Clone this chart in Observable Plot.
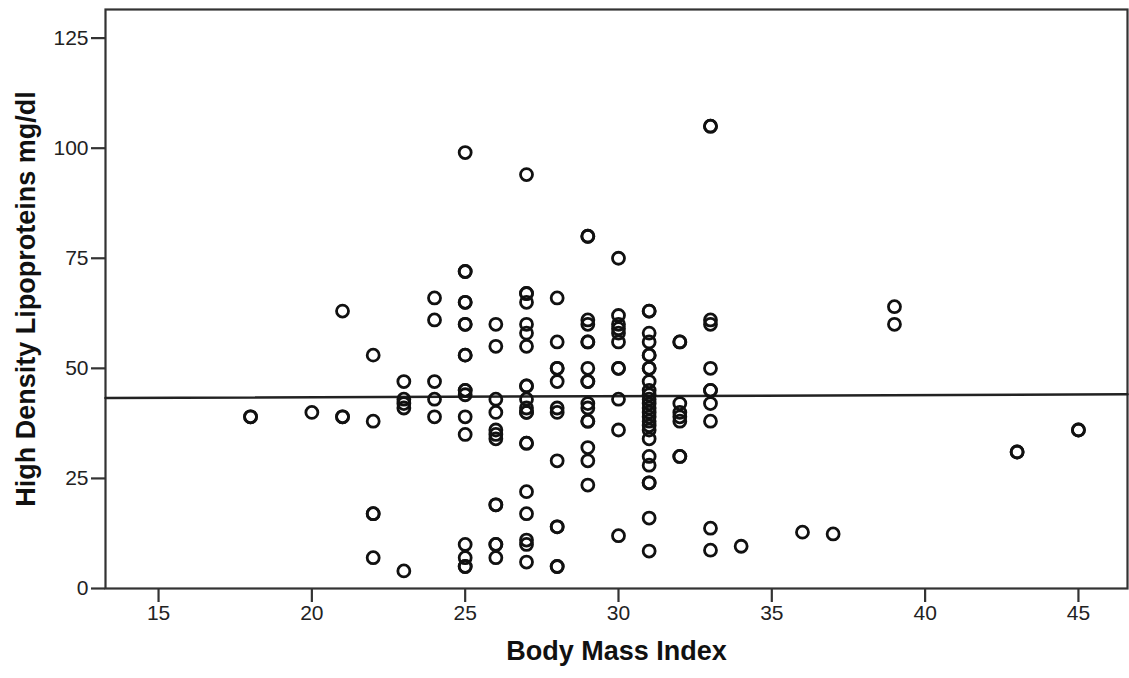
<!DOCTYPE html>
<html>
<head>
<meta charset="utf-8">
<script src="https://cdn.jsdelivr.net/npm/d3@7"></script>
<script src="https://cdn.jsdelivr.net/npm/@observablehq/plot@0.6"></script>
<style>
  html, body { margin: 0; padding: 0; background: #fff; }
  #chart svg { display: block; }
</style>
</head>
<body>
<div id="chart"></div>
<script>
// Body Mass Index (x) and HDL mg/dl (y)
const bmi = [
  18, 18,
  20,
  21, 21, 21,
  22, 22, 22, 22, 22,
  23, 23, 23, 23, 23,
  24, 24, 24, 24, 24,
  25, 25, 25, 25, 25, 25, 25, 25, 25, 25, 25, 25, 25, 25, 25, 25, 25, 25,
  26, 26, 26, 26, 26, 26, 26, 26, 26, 26, 26, 26,
  27, 27, 27, 27, 27, 27, 27, 27, 27, 27, 27, 27, 27, 27, 27, 27, 27, 27, 27, 27,
  28, 28, 28, 28, 28, 28, 28, 28, 28, 28, 28, 28,
  29, 29, 29, 29, 29, 29, 29, 29, 29, 29, 29, 29, 29, 29, 29, 29,
  30, 30, 30, 30, 30, 30, 30, 30, 30, 30, 30,
  31, 31, 31, 31, 31, 31, 31, 31, 31, 31, 31, 31, 31, 31, 31, 31, 31, 31, 31, 31, 31, 31, 31, 31, 31, 31,
  32, 32, 32, 32, 32, 32, 32, 32,
  33, 33, 33, 33, 33, 33, 33, 33, 33, 33, 33,
  34, 36, 37,
  39, 39,
  43, 43,
  45, 45
];
const hdl = [
  39, 39,
  40,
  63, 39, 39,
  53, 38, 17, 17, 7,
  47, 43, 42, 41, 4,
  66, 61, 47, 43, 39,
  99, 72, 72, 65, 65, 60, 60, 53, 53, 45, 45, 44, 39, 35, 10, 7, 5, 5,
  60, 55, 43, 40, 36, 35, 34, 19, 19, 10, 10, 7,
  94, 67, 67, 65, 60, 58, 55, 46, 46, 43, 41, 40, 40, 33, 33, 22, 17, 11, 10, 6,
  66, 56, 50, 50, 47, 41, 40, 29, 14, 14, 5, 5,
  80, 80, 61, 60, 56, 56, 50, 47, 47, 42, 41, 38, 38, 32, 29, 23.5,
  75, 62, 60, 59, 58, 56, 50, 50, 43, 36, 12,
  63, 63, 58, 56, 53, 53, 50, 50, 47, 45, 44, 43, 42, 41, 40, 39, 38, 37, 36, 34, 30, 28, 24, 24, 16, 8.5,
  56, 56, 42, 40, 39, 38, 30, 30,
  105, 105, 61, 60, 50, 45, 45, 42, 38, 13.7, 8.7,
  9.6, 12.8, 12.4,
  64, 60,
  31, 31,
  36, 36
];
// Fit line end points (mean line across the frame)
const fitBmi = [13.27, 46.6];
const fitHdl = [43.25, 44.1];
// Tick labels
const xTicks = [15, 20, 25, 30, 35, 40, 45];
const yTicks = [0, 25, 50, 75, 100, 125];
const xLabel = "Body Mass Index";
const yLabel = "High Density Lipoproteins mg/dl";

const points = bmi.map((b, i) => ({bmi: b, hdl: hdl[i]}));
const fit = fitBmi.map((b, i) => ({bmi: b, hdl: fitHdl[i]}));

const chart = Plot.plot({
  width: 1129,
  height: 678,
  marginLeft: 105,
  marginRight: 2,
  marginTop: 9,
  marginBottom: 90,
  style: {fontFamily: "'Liberation Sans', Arial, sans-serif", color: "#222", background: "#fff"},
  x: {domain: [13.27, 46.6]},
  y: {domain: [0, 131.5]},
  marks: [
    Plot.axisX(xTicks, {tickSize: 14, tickPadding: 3, fontSize: 21, strokeWidth: 2.2, stroke: "#333", fill: "#222", label: null}),
    Plot.axisY(yTicks, {tickSize: 14, tickPadding: 3, fontSize: 21, strokeWidth: 2.2, stroke: "#333", fill: "#222", label: null}),
    Plot.frame({stroke: "#333", strokeWidth: 2.2}),
    Plot.line(fit, {x: "bmi", y: "hdl", stroke: "#222", strokeWidth: 2.5}),
    Plot.dot(points, {x: "bmi", y: "hdl", r: 6, stroke: "#111", strokeWidth: 2.8, fill: "none"}),
    Plot.text([xLabel], {frameAnchor: "bottom", textAnchor: "middle", dy: 71, fontSize: 27, fontWeight: "bold", fill: "#111"}),
    Plot.text([yLabel], {frameAnchor: "left", textAnchor: "middle", dx: -79, rotate: -90, fontSize: 27, fontWeight: "bold", fill: "#111"})
  ]
});
document.getElementById("chart").appendChild(chart);
</script>
</body>
</html>
